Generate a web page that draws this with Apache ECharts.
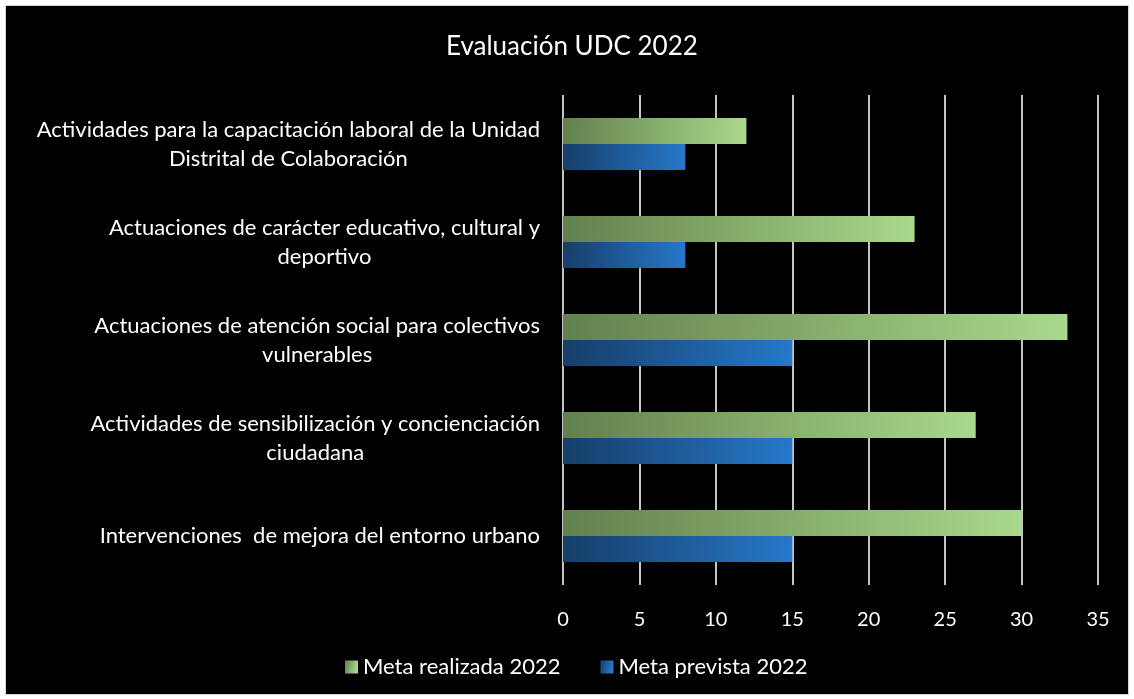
<!DOCTYPE html>
<html>
<head>
<meta charset="utf-8">
<script src="https://cdn.jsdelivr.net/npm/echarts@6/dist/echarts.min.js"></script>
<style>
    body { margin: 0; background: #ffffff; }
    #frame { position: absolute; left: 5px; top: 5px; width: 1122px; height: 688px; background: #000; border: 1px solid #d4d4d4; }
    #main { position: absolute; left: 0; top: 0; width: 1134px; height: 699px; }
</style>
</head>
<body>
<div id="frame"></div>
<div id="main"></div>
<script>
// categorias de arriba a abajo
var categorias = [
    'Actividades para la capacitación laboral de la Unidad\nDistrital de Colaboración',
    'Actuaciones de carácter educativo, cultural y\ndeportivo',
    'Actuaciones de atención social para colectivos\nvulnerables',
    'Actividades de sensibilización y concienciación\nciudadana',
    'Intervenciones  de mejora del entorno urbano'
];
var metaRealizada = [12, 23, 33, 27, 30];
var metaPrevista = [8, 8, 15, 15, 15];
var ticksX = [0, 5, 10, 15, 20, 25, 30, 35];

var dom = document.getElementById("main");
var grafico = echarts.init(dom);

var fuente = 'Lato, "Open Sans", sans-serif';

var verde = new echarts.graphic.LinearGradient(0, 0, 1, 0.25, [
    { offset: 0, color: '#62804d' },
    { offset: 1, color: '#a9d88b' }
]);
var azul = new echarts.graphic.LinearGradient(0, 0, 1, 0.25, [
    { offset: 0, color: '#163e69' },
    { offset: 1, color: '#2678c8' }
]);

var option = {
    backgroundColor: 'transparent',
    textStyle: { fontFamily: fuente },
    title: {
        text: 'Evaluación UDC 2022',
        left: 441,
        top: 29,
        textStyle: { color: '#ffffff', fontSize: 26, fontWeight: 'normal', fontFamily: fuente }
    },
    legend: {
        bottom: 16,
        left: 340,
        icon: 'rect',
        itemWidth: 13,
        itemHeight: 13,
        itemGap: 40,
        textStyle: { color: '#ffffff', fontSize: 22, fontFamily: fuente },
        data: ['Meta realizada 2022', 'Meta prevista 2022']
    },
    grid: { left: 563, right: 36, top: 95, bottom: 114, containLabel: false },
    xAxis: {
        type: 'value',
        min: ticksX[0],
        max: ticksX[ticksX.length - 1],
        interval: 5,
        axisLine: { show: false },
        axisTick: { show: false },
        axisLabel: { color: '#ffffff', fontSize: 20, margin: 25, fontFamily: fuente },
        splitLine: { show: true, lineStyle: { color: '#c4c4c4', width: 2 } }
    },
    yAxis: {
        type: 'category',
        inverse: true,
        data: categorias,
        axisLine: { show: false },
        axisTick: { show: false },
        axisLabel: {
            margin: 23,
            formatter: function (v) {
                return v.split('\n').map(function (l) { return '{a|' + l + '}'; }).join('\n');
            },
            rich: {
                a: { color: '#ffffff', fontSize: 22, lineHeight: 29, align: 'center', fontFamily: fuente }
            }
        }
    },
    series: [
        {
            name: 'Meta realizada 2022',
            type: 'bar',
            data: metaRealizada,
            barWidth: 26,
            barGap: '0%',
            itemStyle: { color: verde }
        },
        {
            name: 'Meta prevista 2022',
            type: 'bar',
            data: metaPrevista,
            barWidth: 26,
            barGap: '0%',
            itemStyle: { color: azul }
        }
    ]
};
grafico.setOption(option);
</script>
</body>
</html>
